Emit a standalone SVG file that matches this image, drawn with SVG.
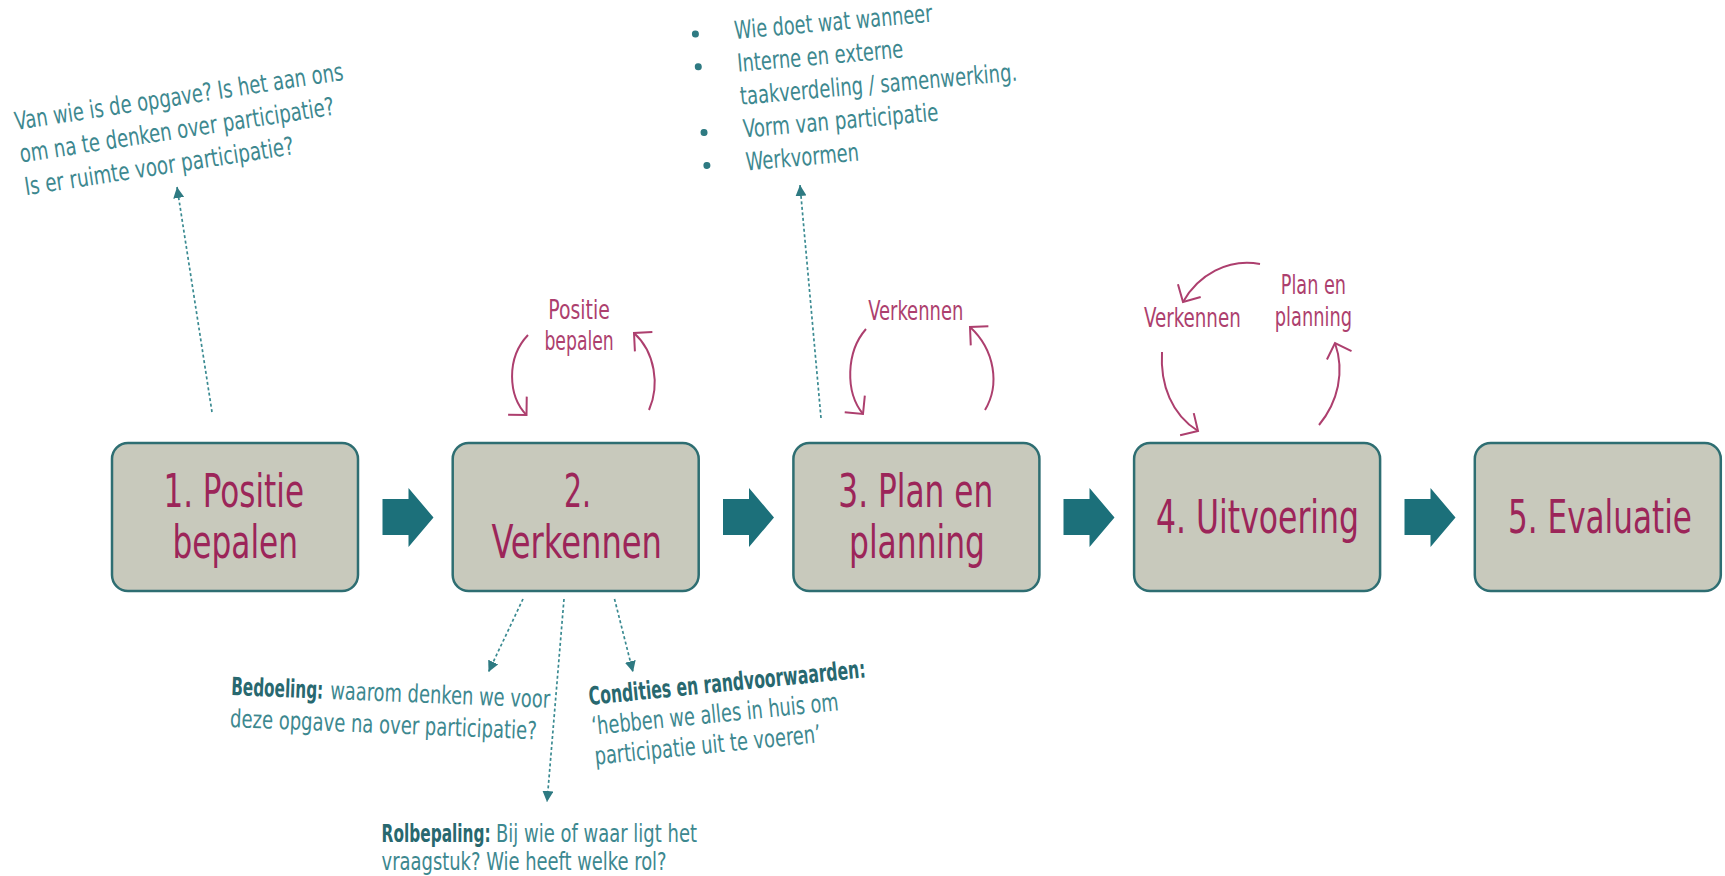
<svg xmlns="http://www.w3.org/2000/svg" width="1725" height="876" viewBox="0 0 1725 876">
<defs>
<style>
.box{fill:#c8c9bc;stroke:#2e6e72;stroke-width:2.5}
.big{font-family:'DejaVu Sans Condensed','DejaVu Sans',sans-serif;font-size:46px;fill:#9c2559}
.lbl{font-family:'DejaVu Sans Condensed','DejaVu Sans',sans-serif;font-size:26px;fill:#ad3f6e}
.note{font-family:'DejaVu Sans Condensed','DejaVu Sans',sans-serif;font-size:25px;fill:#3d888f}
.noteb{font-family:'DejaVu Sans Condensed','DejaVu Sans',sans-serif;font-size:25px;fill:#28686f;font-weight:bold}
.dot{fill:none;stroke:#3a8a91;stroke-width:1.7;stroke-dasharray:3 2.5}
.blk{fill:#1c707a}
.cyc{fill:none;stroke:#ad3f6e;stroke-width:2}
.bul{fill:#2e7a82}
</style>
<marker id="tri" viewBox="0 0 10 10" refX="10" refY="5" markerWidth="11" markerHeight="11" markerUnits="userSpaceOnUse" orient="auto">
<path d="M0,0 L10,5 L0,10 Z" fill="#2e7a82"/>
</marker>
<marker id="vee" viewBox="-16 -16 20 32" refX="0" refY="0" markerWidth="20" markerHeight="32" markerUnits="userSpaceOnUse" orient="auto" overflow="visible">
<path d="M-13,-13 L0,0 L-13,13" fill="none" stroke="#ad3f6e" stroke-width="2"/>
</marker>
</defs>
<rect width="1725" height="876" fill="#ffffff"/>

<g id="connectors">
<path class="blk" d="M382.5,499 H408.5 V488 L433.5,517.5 L408.5,547 V535 H382.5 Z"/>
<path class="blk" d="M723,499 H749 V488 L774,517.5 L749,547 V535 H723 Z"/>
<path class="blk" d="M1063.5,499 H1089.5 V488 L1114.5,517.5 L1089.5,547 V535 H1063.5 Z"/>
<path class="blk" d="M1404.5,499 H1430.5 V488 L1455.5,517.5 L1430.5,547 V535 H1404.5 Z"/>
<line class="dot" x1="212" y1="412" x2="177" y2="187" marker-end="url(#tri)"/>
<line class="dot" x1="821" y1="418" x2="800" y2="185" marker-end="url(#tri)"/>
<line class="dot" x1="523" y1="599" x2="488.5" y2="672" marker-end="url(#tri)"/>
<line class="dot" x1="564" y1="599" x2="547" y2="802" marker-end="url(#tri)"/>
<line class="dot" x1="614.5" y1="599" x2="633" y2="672" marker-end="url(#tri)"/>
<path class="cyc" d="M528,335 C506,358 508,396 526.5,415" marker-end="url(#vee)"/>
<path class="cyc" d="M649,410 C660,385 655,352 634,333" marker-end="url(#vee)"/>
<path class="cyc" d="M866,329 C846,352 845,392 863,414" marker-end="url(#vee)"/>
<path class="cyc" d="M985,410 C1000,385 995,350 970,327" marker-end="url(#vee)"/>
<path class="cyc" d="M1260,264 C1228,258 1198,275 1183,302" marker-end="url(#vee)"/>
<path class="cyc" d="M1162,352 C1160,385 1172,415 1198,431" marker-end="url(#vee)"/>
<path class="cyc" d="M1319,425 C1338,402 1345,372 1335,343" marker-end="url(#vee)"/>
</g>

<g id="node-1">
<rect class="box" x="112" y="443" width="246" height="148" rx="16"/>
<text class="big" x="163.4" y="507" textLength="140.6" lengthAdjust="spacingAndGlyphs">1. Positie</text>
<text class="big" x="172.5" y="558" textLength="125.5" lengthAdjust="spacingAndGlyphs">bepalen</text>
</g>
<g id="node-2">
<rect class="box" x="452.7" y="443" width="246" height="148" rx="16"/>
<text class="big" x="564" y="507" textLength="27" lengthAdjust="spacingAndGlyphs">2.</text>
<text class="big" x="491.6" y="558" textLength="170.4" lengthAdjust="spacingAndGlyphs">Verkennen</text>
</g>
<g id="node-3">
<rect class="box" x="793.4" y="443" width="246" height="148" rx="16"/>
<text class="big" x="838.3" y="507" textLength="155" lengthAdjust="spacingAndGlyphs">3. Plan en</text>
<text class="big" x="849" y="558" textLength="136" lengthAdjust="spacingAndGlyphs">planning</text>
</g>
<g id="node-4">
<rect class="box" x="1134.1" y="443" width="246" height="148" rx="16"/>
<text class="big" x="1156" y="533" textLength="203" lengthAdjust="spacingAndGlyphs">4. Uitvoering</text>
</g>
<g id="node-5">
<rect class="box" x="1474.8" y="443" width="246" height="148" rx="16"/>
<text class="big" x="1508" y="533" textLength="184" lengthAdjust="spacingAndGlyphs">5. Evaluatie</text>
</g>

<g id="cycle-labels">
<text class="lbl" x="548.3" y="319.3" textLength="61.5" lengthAdjust="spacingAndGlyphs">Positie</text>
<text class="lbl" x="544.4" y="350" textLength="69.4" lengthAdjust="spacingAndGlyphs">bepalen</text>
<text class="lbl" x="868.3" y="319.5" textLength="95" lengthAdjust="spacingAndGlyphs">Verkennen</text>
<text class="lbl" x="1144" y="327.3" textLength="96.8" lengthAdjust="spacingAndGlyphs">Verkennen</text>
<text class="lbl" x="1280.8" y="294" textLength="65.2" lengthAdjust="spacingAndGlyphs">Plan en</text>
<text class="lbl" x="1274.8" y="326" textLength="77.2" lengthAdjust="spacingAndGlyphs">planning</text>
</g>

<g id="note-positie" transform="rotate(-8.7 16 130)">
<text class="note" font-size="26" x="16" y="130" textLength="332" lengthAdjust="spacingAndGlyphs">Van wie is de opgave? Is het aan ons</text>
<text class="note" font-size="26" x="16" y="163" textLength="318" lengthAdjust="spacingAndGlyphs">om na te denken over participatie?</text>
<text class="note" font-size="26" x="16" y="196" textLength="272" lengthAdjust="spacingAndGlyphs">Is er ruimte voor participatie?</text>
</g>

<g id="note-plan" transform="rotate(-5 735 39)">
<circle class="bul" cx="696" cy="30.5" r="3.5"/>
<circle class="bul" cx="696" cy="63.5" r="3.5"/>
<circle class="bul" cx="696" cy="129.5" r="3.5"/>
<circle class="bul" cx="696" cy="162.5" r="3.5"/>
<text class="note" font-size="24" x="735" y="39" textLength="198.7" lengthAdjust="spacingAndGlyphs">Wie doet wat wanneer</text>
<text class="note" font-size="24" x="735" y="72" textLength="166.5" lengthAdjust="spacingAndGlyphs">Interne en externe</text>
<text class="note" font-size="24" x="735" y="105" textLength="278" lengthAdjust="spacingAndGlyphs">taakverdeling / samenwerking.</text>
<text class="note" font-size="24" x="735" y="138" textLength="196" lengthAdjust="spacingAndGlyphs">Vorm van participatie</text>
<text class="note" font-size="24" x="735" y="171" textLength="113.5" lengthAdjust="spacingAndGlyphs">Werkvormen</text>
</g>

<g id="note-bedoeling" transform="rotate(2.3 231 695)">
<text class="noteb" x="231" y="695" textLength="92" lengthAdjust="spacingAndGlyphs">Bedoeling:</text>
<text class="note" x="330" y="695" textLength="220" lengthAdjust="spacingAndGlyphs">waarom denken we voor</text>
<text class="note" x="231" y="727" textLength="307" lengthAdjust="spacingAndGlyphs">deze opgave na over participatie?</text>
</g>

<g id="note-condities" transform="rotate(-5.7 589.5 705)">
<text class="noteb" x="589.5" y="705" textLength="278" lengthAdjust="spacingAndGlyphs">Condities en randvoorwaarden:</text>
<text class="note" x="589.5" y="735" textLength="248" lengthAdjust="spacingAndGlyphs">‘hebben we alles in huis om</text>
<text class="note" x="589.5" y="765" textLength="227" lengthAdjust="spacingAndGlyphs">participatie uit te voeren’</text>
</g>

<g id="note-rolbepaling">
<text class="noteb" font-size="24" x="381.6" y="842" textLength="109" lengthAdjust="spacingAndGlyphs">Rolbepaling:</text>
<text class="note" font-size="24" x="496" y="842" textLength="201" lengthAdjust="spacingAndGlyphs">Bij wie of waar ligt het</text>
<text class="note" font-size="24" x="381.6" y="870" textLength="285" lengthAdjust="spacingAndGlyphs">vraagstuk? Wie heeft welke rol?</text>
</g>
</svg>
